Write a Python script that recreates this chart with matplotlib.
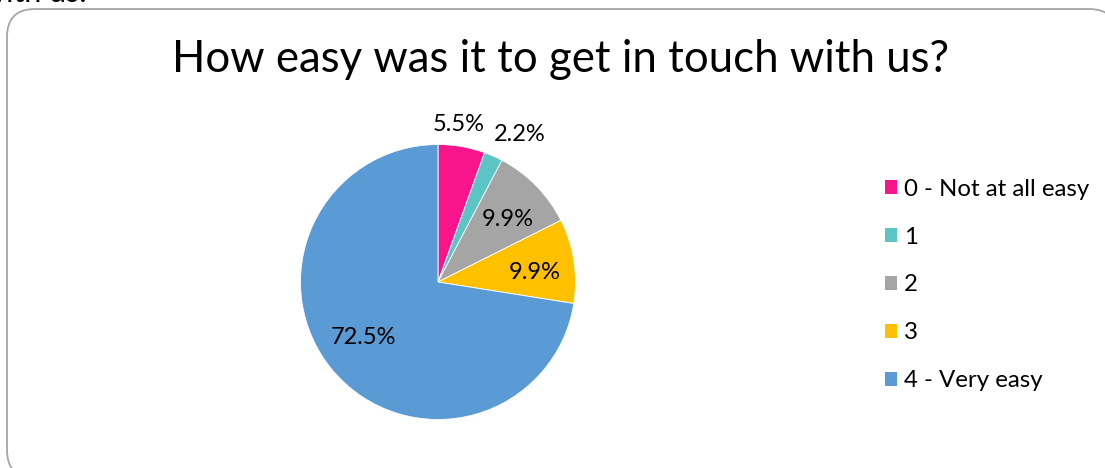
import matplotlib.pyplot as plt
from matplotlib.patches import FancyBboxPatch, Patch
import numpy as np

# survey answers
categories = ['0 - Not at all easy', '1', '2', '3', '4 - Very easy']
shares = [5.5, 2.2, 9.9, 9.9, 72.5]
colors = ['#F8148A', '#5BC4C4', '#A5A5A5', '#FFC000', '#5B9BD5']
title = 'How easy was it to get in touch with us?'

plt.rcParams['font.family'] = ['Lato', 'DejaVu Sans']

W, H = 1105, 468
fig = plt.figure(figsize=(W / 100, H / 100), dpi=100)

# rounded chart frame, running off the right and bottom edges
frame = FancyBboxPatch((7 / W, -10 / H), 1110 / W, 469 / H,
                       boxstyle='round,pad=0,rounding_size=%f' % (28 / W),
                       transform=fig.transFigure, facecolor='white',
                       edgecolor='#A6A6A6', linewidth=1.3,
                       mutation_aspect=W / H, zorder=-1)
fig.patches.append(frame)

# bit of the line of text above the chart
fig.text(-18 / W, 1 - 2 / H, 'with us:', fontsize=22, va='baseline', ha='left')

fig.text(560 / W, 1 - 60 / H, title, fontsize=31.5, ha='center', va='center')

# pie: centre (438, 282), radius 137.5 px
cx, cy, r = 438, 282, 137.5
ax = fig.add_axes([(cx - r) / W, (H - cy - r) / H, 2 * r / W, 2 * r / H])
wedges, _ = ax.pie(shares, colors=colors, startangle=90, counterclock=False,
                   radius=1, wedgeprops=dict(edgecolor='white', linewidth=0.6))
ax.set_xlim(-1, 1)
ax.set_ylim(-1, 1)
ax.set_aspect('equal')
ax.axis('off')

# label placement per slice: distance from centre, angle shift in degrees
label_r = [1.152, 1.222, 0.682, 0.709, 0.68]
label_shift = [2.3, -5.2, -2.3, -3.5, -3.8]
for w, v, lr, da in zip(wedges, shares, label_r, label_shift):
    ang = np.deg2rad((w.theta1 + w.theta2) / 2 + da)
    ax.text(lr * np.cos(ang), lr * np.sin(ang), f'{v:.1f}%', fontsize=17,
            ha='center', va='center', clip_on=False)

handles = [Patch(facecolor=c, edgecolor='none') for c in colors]
fig.legend(handles, categories, loc='upper left',
           bbox_to_anchor=(875 / W, 1 - 169 / H), frameon=False,
           fontsize=17.3, handlelength=0.5, handleheight=0.5, handletextpad=0.3,
           labelspacing=1.12, borderaxespad=0)

fig.savefig('out.png', dpi=100)
